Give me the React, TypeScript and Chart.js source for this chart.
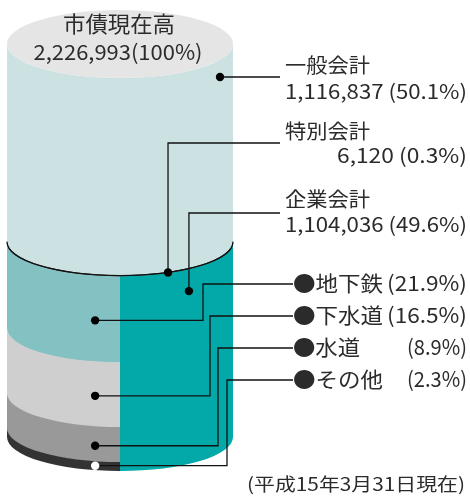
import { useEffect, useRef } from 'react';
import { Chart, registerables } from 'chart.js';

Chart.register(...registerables);

// ---- data ----
const categories = ['市債現在高'];
const totalLabel = '市債現在高';
const totalValue = 2226993;
const accountNames = ['一般会計', '特別会計', '企業会計'];
const accountValues = [1116837, 6120, 1104036];
const accountShares = [50.1, 0.3, 49.6];
const enterpriseNames = ['地下鉄', '下水道', '水道', 'その他'];
const enterpriseValues = [487712, 367454, 198202, 50668];
const enterpriseShares = [21.9, 16.5, 8.9, 2.3];
const dateNote = '(平成15年3月31日現在)';

// ---- styles ----
const generalColor = '#cce2e2';
const specialColor = '#111111';
const enterpriseColor = '#03a8a8';
const subColors = ['#84c1c3', '#cfcfcf', '#999999', '#333333'];
const capColor = '#e5e5e5';
const textColor = '#2b2b2b';
const FONT = '"Noto Sans CJK JP", "Noto Sans", sans-serif';
const RY = 34;

const fmt = (v: number) => v.toLocaleString('en-US');

function fitText(ctx: CanvasRenderingContext2D, text: string, x: number, y: number, width: number, align: CanvasTextAlign) {
  const w = ctx.measureText(text).width || 1;
  const s = width / w;
  ctx.save();
  ctx.translate(x, y);
  ctx.scale(s, 1);
  ctx.textAlign = align;
  ctx.textBaseline = 'middle';
  ctx.fillText(text, 0, 0);
  ctx.restore();
}

const cylinderPlugin = {
  id: 'cylinder',
  afterDatasetsDraw(chart: any) {
    const ctx: CanvasRenderingContext2D = chart.ctx;
    const yScale = chart.scales.y;
    const els = chart.data.datasets.map((_: any, i: number) => chart.getDatasetMeta(i).data[0]);
    const e0 = els[0];
    const cx = e0.x;
    const rx = e0.width / 2;
    const L = cx - rx;
    const R = cx + rx;
    const span = (el: any) => [Math.min(el.y, el.base), Math.max(el.y, el.base)];
    const curve = (x: number) => RY * Math.sqrt(Math.max(0, 1 - ((x - cx) / rx) ** 2));

    const fullBand = (ya: number, yb: number, color: string) => {
      ctx.beginPath();
      ctx.moveTo(L, ya);
      ctx.lineTo(L, yb);
      ctx.ellipse(cx, yb, rx, RY, 0, Math.PI, 0, true);
      ctx.lineTo(R, ya);
      ctx.ellipse(cx, ya, rx, RY, 0, 0, Math.PI, false);
      ctx.closePath();
      ctx.fillStyle = color;
      ctx.fill();
    };
    const leftBand = (ya: number, yb: number, color: string) => {
      ctx.beginPath();
      ctx.moveTo(L, ya);
      ctx.lineTo(L, yb);
      ctx.ellipse(cx, yb, rx, RY, 0, Math.PI, Math.PI / 2, true);
      ctx.lineTo(cx, ya + RY);
      ctx.ellipse(cx, ya, rx, RY, 0, Math.PI / 2, Math.PI, false);
      ctx.closePath();
      ctx.fillStyle = color;
      ctx.fill();
    };
    const rightBand = (ya: number, yb: number, color: string) => {
      ctx.beginPath();
      ctx.moveTo(cx, ya + RY);
      ctx.ellipse(cx, ya, rx, RY, 0, Math.PI / 2, 0, true);
      ctx.lineTo(R, yb);
      ctx.ellipse(cx, yb, rx, RY, 0, 0, Math.PI / 2, false);
      ctx.closePath();
      ctx.fillStyle = color;
      ctx.fill();
    };

    ctx.save();
    // general account (top, full width)
    const [gA, gB] = span(els[0]);
    fullBand(gA, gB + 0.5, generalColor);
    // enterprise sub-breakdown (left half)
    const subSpans: number[][] = [];
    for (let i = 0; i < enterpriseNames.length; i++) {
      const [a, b] = span(els[2 + i]);
      subSpans.push([a, b]);
      leftBand(a, b + (i < enterpriseNames.length - 1 ? 0.5 : 0), subColors[i]);
    }
    // enterprise total (right half)
    const eTop = yScale.getPixelForValue(accountValues[0] + accountValues[1]);
    const eBot = yScale.getPixelForValue(accountValues[0] + accountValues[1] + accountValues[2]);
    rightBand(eTop, eBot, enterpriseColor);
    // special account (thin band)
    const [sA, sB] = span(els[1]);
    fullBand(sA, sB, specialColor);
    ctx.beginPath();
    ctx.ellipse(cx, (sA + sB) / 2, rx, RY, 0, Math.PI, 0, true);
    ctx.lineWidth = Math.max(1.3, sB - sA);
    ctx.strokeStyle = specialColor;
    ctx.stroke();
    // top cap
    ctx.beginPath();
    ctx.ellipse(cx, gA, rx, RY, 0, 0, Math.PI * 2);
    ctx.fillStyle = capColor;
    ctx.fill();

    // cap text
    ctx.fillStyle = textColor;
    ctx.font = `22px ${FONT}`;
    fitText(ctx, totalLabel, cx - 1, gA - 20, 112, 'center');
    ctx.font = `21px ${FONT}`;
    fitText(ctx, `${fmt(totalValue)}(100%)`, cx - 2, gA + 8, 169, 'center');

    // ---- leaders ----
    const labelX = 280;
    const bulletX = 293;
    const rightEdge = 467;
    const line = (pts: number[][], color = '#111') => {
      ctx.beginPath();
      ctx.moveTo(pts[0][0], pts[0][1]);
      for (let k = 1; k < pts.length; k++) ctx.lineTo(pts[k][0], pts[k][1]);
      ctx.lineWidth = 1.3;
      ctx.strokeStyle = color;
      ctx.stroke();
    };
    const dot = (x: number, y: number, color = '#000') => {
      ctx.beginPath();
      ctx.arc(x, y, 4.2, 0, Math.PI * 2);
      ctx.fillStyle = color;
      ctx.fill();
    };

    // general
    const gx = cx + 0.885 * rx;
    const gy = gA + 33;
    line([[gx, gy], [labelX, gy]]);
    dot(gx, gy);
    // special
    const sx = cx + 0.425 * rx;
    const sy = (sA + sB) / 2 + curve(sx);
    const sLabelY = 143;
    line([[sx, sy], [sx, sLabelY], [labelX, sLabelY]]);
    dot(sx, sy);
    // enterprise
    const ex = cx + 0.61 * rx;
    const ey = eTop + curve(ex) + 22;
    const eLabelY = 213;
    line([[ex, ey], [ex, eLabelY], [labelX, eLabelY]]);
    dot(ex, ey);

    // sub items
    const subElbowX = [203, 210, 218, 227];
    const subLabelY = [284, 316, 348, 380];
    const subDotX = cx - 0.22 * rx;
    for (let i = 0; i < enterpriseNames.length; i++) {
      const [a, b] = subSpans[i];
      const y = (a + b) / 2 + curve(subDotX) + (i === 3 ? 0 : 2);
      line([[subDotX, y], [subElbowX[i], y], [subElbowX[i], subLabelY[i]], [bulletX, subLabelY[i]]]);
      dot(subDotX, y, i === 3 ? '#ffffff' : '#000');
    }

    // ---- text ----
    ctx.fillStyle = textColor;
    ctx.font = `20px ${FONT}`;
    const tx = 285;
    fitText(ctx, accountNames[0], tx, 65, 85, 'left');
    fitText(ctx, `${fmt(accountValues[0])} (${accountShares[0].toFixed(1)}%)`, tx, 91, 182, 'left');
    fitText(ctx, accountNames[1], tx, 131, 85, 'left');
    fitText(ctx, `${fmt(accountValues[1])} (${accountShares[1].toFixed(1)}%)`, rightEdge, 155, 130, 'right');
    fitText(ctx, accountNames[2], tx, 199, 85, 'left');
    fitText(ctx, `${fmt(accountValues[2])} (${accountShares[2].toFixed(1)}%)`, tx, 224, 182, 'left');

    ctx.font = `21px ${FONT}`;
    const nameW = [90, 90, 67, 90];
    const pctW = [80, 80, 60, 60];
    for (let i = 0; i < enterpriseNames.length; i++) {
      const y = subLabelY[i] - 1;
      fitText(ctx, `●${enterpriseNames[i]}`, bulletX, y, nameW[i], 'left');
      fitText(ctx, `(${enterpriseShares[i].toFixed(1)}%)`, rightEdge, y, pctW[i], 'right');
    }

    ctx.font = `18px ${FONT}`;
    fitText(ctx, dateNote, 247, 484, 218, 'left');
    ctx.restore();
  },
};

export default function App() {
  const ref = useRef<HTMLCanvasElement>(null);
  useEffect(() => {
    document.body.style.margin = '0';
    if (!ref.current) return;
    const seriesNames = [accountNames[0], accountNames[1], ...enterpriseNames];
    const seriesValues = [accountValues[0], accountValues[1], ...enterpriseValues];
    const chart = new Chart(ref.current, {
      type: 'bar',
      data: {
        labels: categories,
        datasets: seriesNames.map((name, i) => ({
          label: name,
          data: [seriesValues[i]],
          backgroundColor: 'rgba(0,0,0,0)',
          borderWidth: 0,
          stack: 'total',
          barPercentage: 1,
          categoryPercentage: 1,
        })),
      },
      options: {
        animation: false,
        responsive: false,
        maintainAspectRatio: false,
        devicePixelRatio: 1,
        events: [],
        layout: { padding: { top: 44, bottom: 59, left: 7, right: 237 } },
        plugins: { legend: { display: false }, tooltip: { enabled: false } },
        scales: {
          x: { display: false, stacked: true },
          y: { display: false, stacked: true, reverse: true, min: 0, max: totalValue },
        },
      },
      plugins: [cylinderPlugin],
    });
    return () => chart.destroy();
  }, []);
  return (
    <div style={{ width: 470, height: 496, background: '#fff' }}>
      <canvas ref={ref} width={470} height={496} />
    </div>
  );
}
